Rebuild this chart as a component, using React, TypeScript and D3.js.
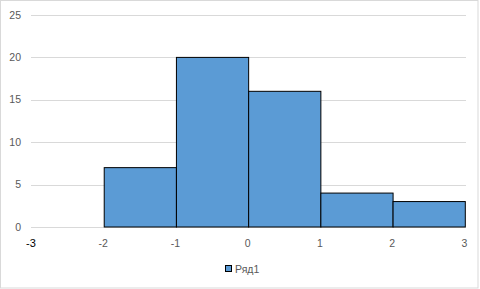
import React from "react";
import * as d3 from "d3";

const binStarts = [-2, -1, 0, 1, 2];
const binEnds = [-1, 0, 1, 2, 3];
const counts = [7, 20, 16, 4, 3];
const yTicks = [0, 5, 10, 15, 20, 25];
const xTicks = [-3, -2, -1, 0, 1, 2, 3];
const seriesName = "Ряд1";

export default function App() {
  const W = 480, H = 289;
  const x = d3.scaleLinear().domain([-3, 3]).range([32, 465.3]);
  const y = d3.scaleLinear().domain([0, 25]).range([227, 15]);
  const font = "'Liberation Sans', Arial, sans-serif";
  return (
    <svg width={W} height={H} style={{ position: "absolute", left: 0, top: 0, display: "block" }}>
      <rect x={0.5} y={0.5} width={477.5} height={287.5} fill="#fff" stroke="#d9d9d9" />
      {yTicks.map((t) => (
        <g key={t}>
          <line x1={31} x2={466} y1={Math.round(y(t)) + 0.5} y2={Math.round(y(t)) + 0.5} stroke="#d9d9d9" strokeWidth={1} />
          <text x={21} y={y(t)} dy="0.35em" textAnchor="end" fontFamily={font} fontSize={10.5} fill="#595959">{t}</text>
        </g>
      ))}
      {counts.map((c, i) => (
        <rect key={i} x={x(binStarts[i])} y={y(c)} width={x(binEnds[i]) - x(binStarts[i])} height={y(0) - y(c)} fill="#5B9BD5" stroke="#000" strokeWidth={1} />
      ))}
      {xTicks.map((t, i) => (
        <text key={t} x={x(t) - 1} y={243} dy="0.35em" textAnchor="middle" fontFamily={font} fontSize={i === 0 ? 11 : 10.5} fill={i === 0 ? "#000" : "#595959"}>{t}</text>
      ))}
      <rect x={225.5} y={265.5} width={6} height={6} fill="#5B9BD5" stroke="#000" strokeWidth={1} />
      <text x={235} y={269} dy="0.35em" fontFamily={font} fontSize={10.5} fill="#595959">{seriesName}</text>
    </svg>
  );
}
